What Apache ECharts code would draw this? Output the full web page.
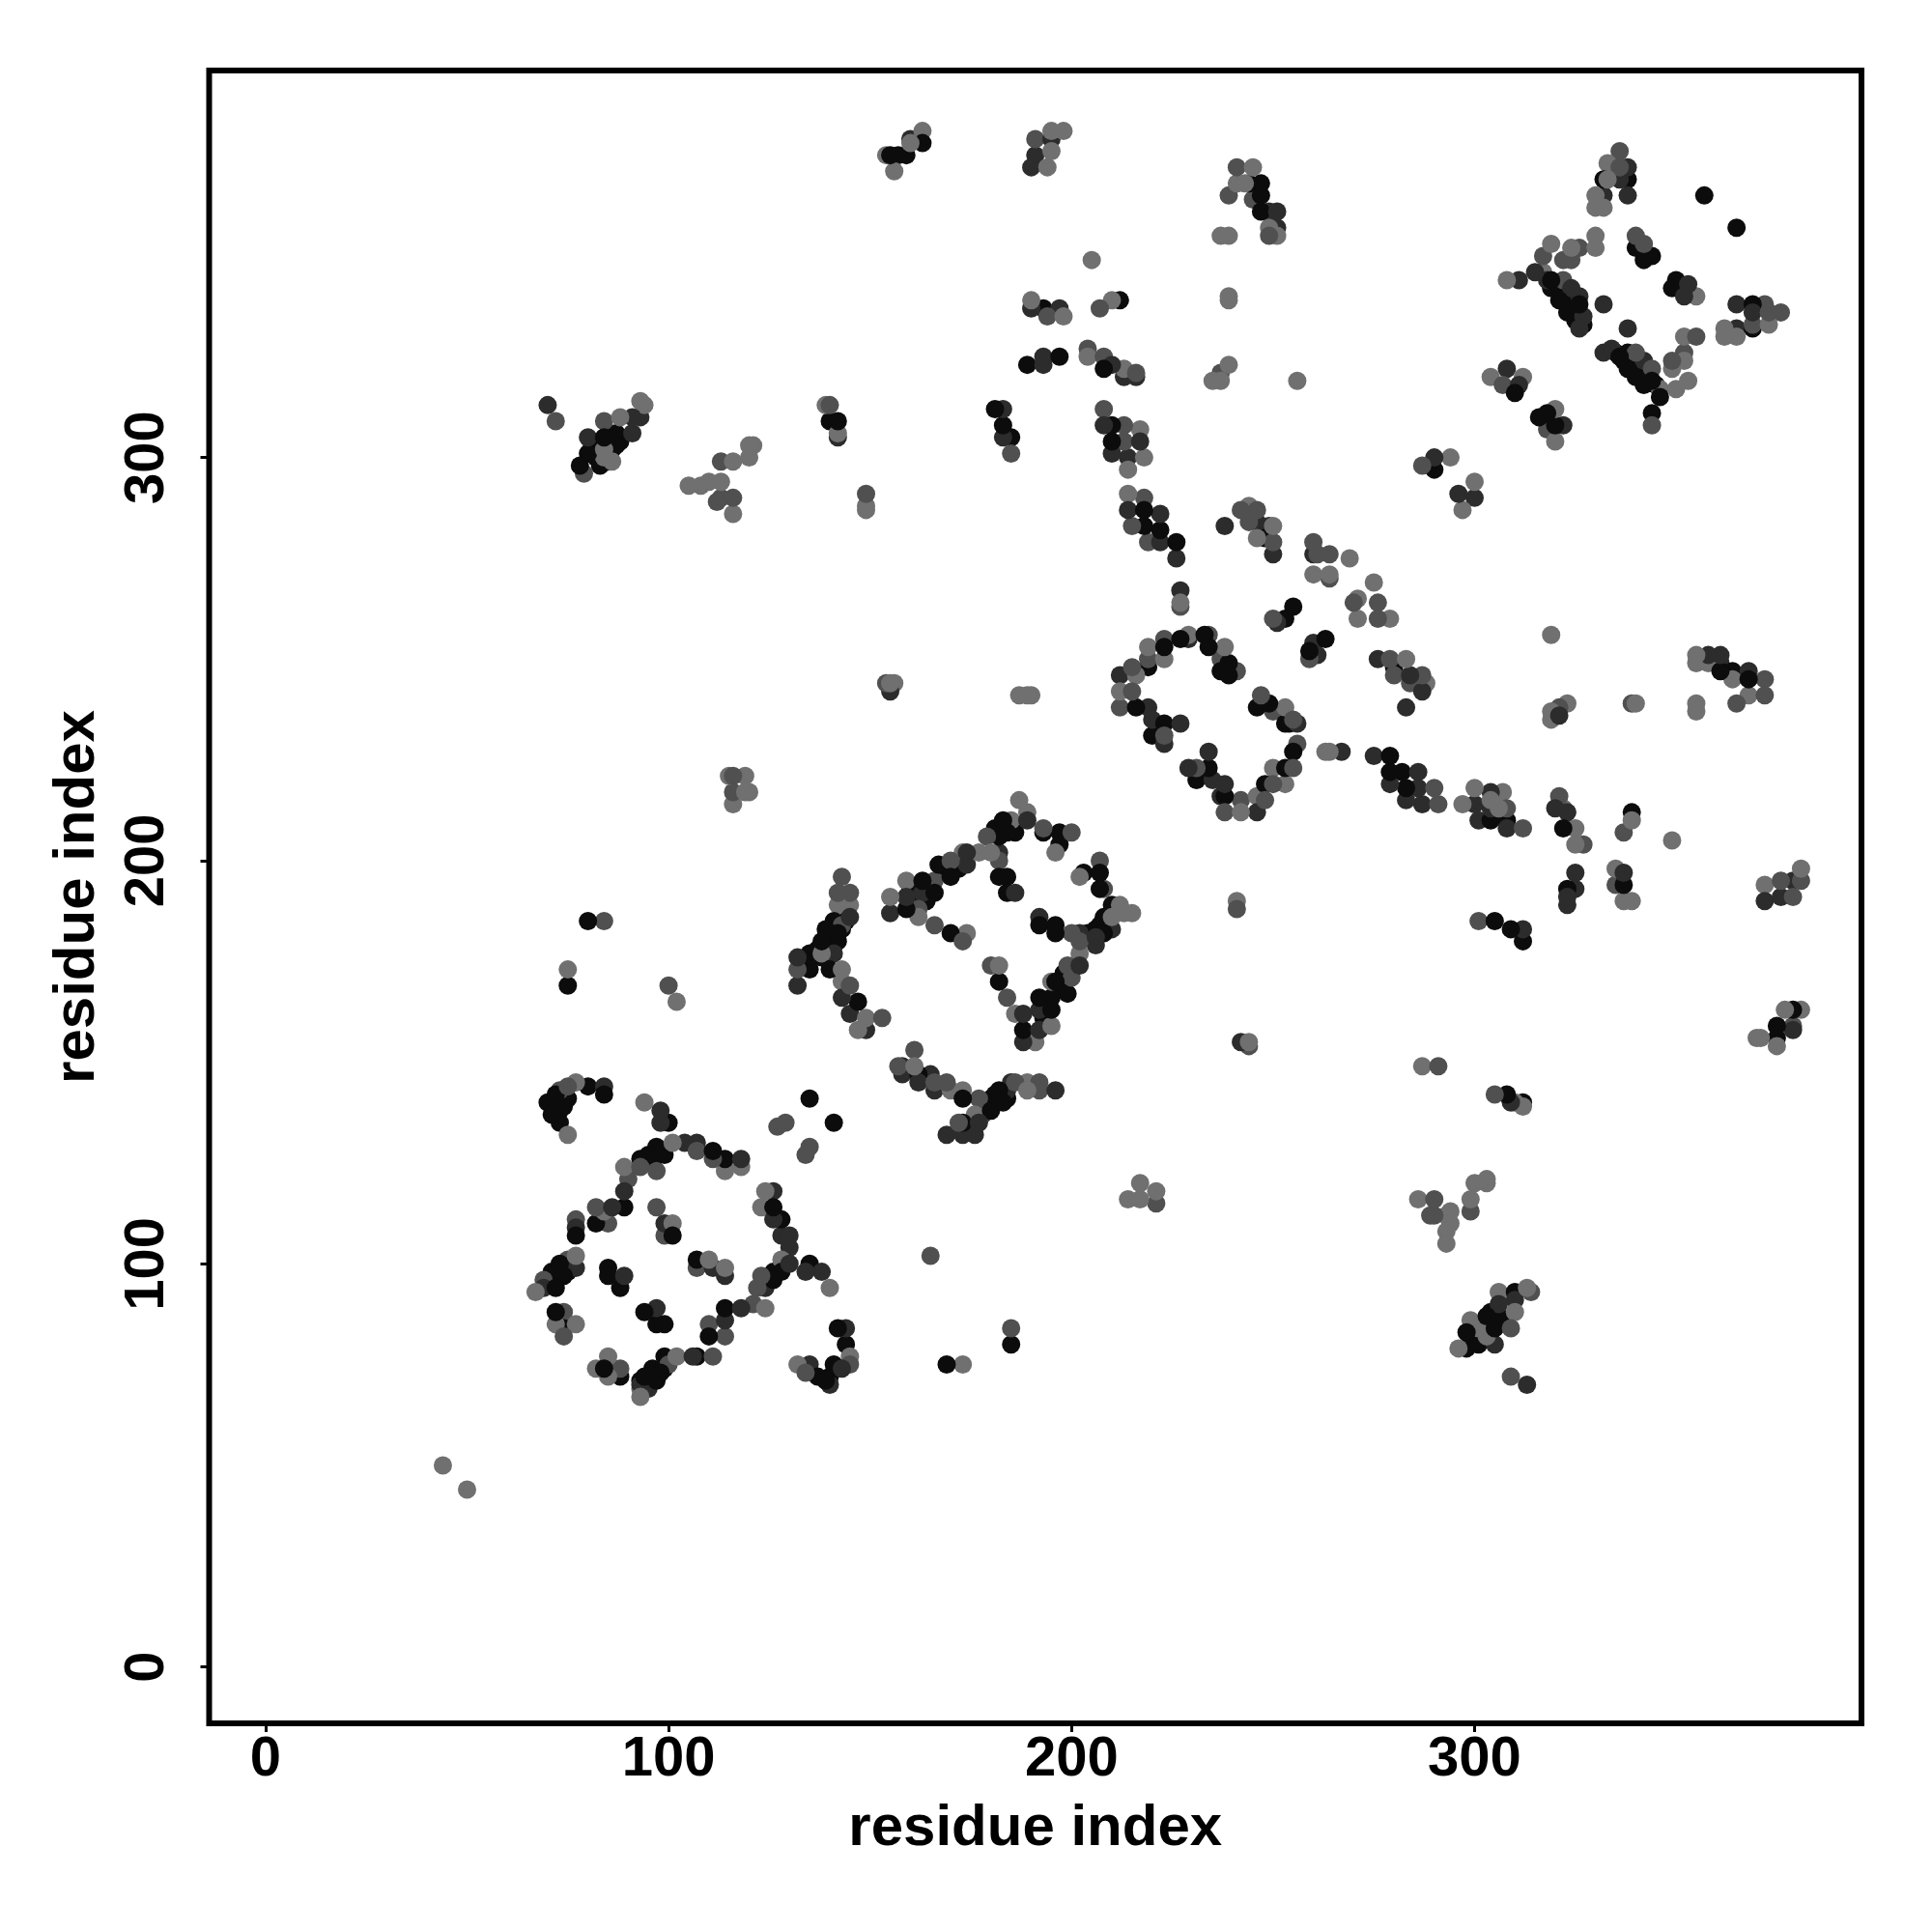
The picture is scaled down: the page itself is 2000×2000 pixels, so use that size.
<!DOCTYPE html>
<html><head><meta charset="utf-8">
<style>html,body{margin:0;padding:0;background:#fff}#c{width:2000px;height:2000px}</style>
<script src="https://cdn.jsdelivr.net/npm/echarts@6/dist/echarts.min.js"></script>
</head><body><div id="c"></div>
<script>
const tickValues=[0,100,200,300];
const axisTitle="residue index";
const shadeColors=['#0c0c0c','#2c2c2c','#505050','#707070'];
const blackContacts=[[80,144],[84,142],[72,142],[75,141],[70,140],[72,139],[71,137],[73,135],[100,135],[97,129],[95,127],[99,127],[111,128],[114,126],[89,114],[82,110],[77,107],[73,100],[71,98],[74,97],[72,94],[72,88],[74,84],[85,99],[85,97],[88,94],[94,88],[97,85],[99,85],[101,107],[107,101],[114,89],[110,82],[84,74],[88,72],[99,77],[98,73],[96,74],[94,72],[97,71],[107,77],[126,114],[128,111],[135,100],[126,98],[124,96],[126,96],[128,98],[135,141],[141,135],[142,84],[144,80],[137,72],[141,75],[140,72],[139,71],
[141,185],[139,183],[142,182],[138,180],[141,179],[135,177],[135,173],[140,173],[147,165],[159,188],[163,195],[166,192],[167,199],[170,196],[181,208],[183,210],[184,207],[182,206],[193,207],[197,207],[197,204],[182,196],[184,196],[184,192],[170,182],[203,197],[207,197],[207,193],[210,189],[207,184],[208,182],[192,184],[196,184],[196,182],[196,170],[199,167],[192,166],[195,166],[195,163],[188,158],[182,170],[162,147],[173,141],[180,141],[182,143],[183,140],[180,138],[173,135],
[218,287],[218,283],[222,282],[226,279],[248,280],[255,263],[253,260],[263,255],[259,252],[280,248],[219,248],[223,253],[227,255],[233,256],[234,253],[239,249],[237,247],[239,246],[216,238],[223,234],[220,231],[234,223],[231,220],[238,216],[248,219],[253,223],[255,227],[246,238],[249,239],[253,234],[254,234],[279,226],[279,222],[282,222],[283,218],
[332,369],[338,369],[357,365],[365,357],[340,352],[342,349],[344,350],[319,344],[319,342],[321,339],[324,338],[326,338],[350,344],[349,342],[369,338],[369,332],[336,325],[338,326],[338,322],[340,320],[344,319],[346,315],[344,311],[342,318],[310,316],[316,310],[318,311],[320,308],
[244,368],[247,368],[247,365],[247,361],[193,337],[212,339],[189,323],[197,325],[208,322],[181,312],[183,308],[185,305],[210,308],[210,304],
[84,305],[87,306],[87,303],[80,301],[83,298],[78,298],[140,309],[142,309],[155,375],[159,375],[157,375],[163,378],
[361,247],[364,247],[368,245],[323,193],[337,194],[339,212],[322,208],[304,210],[308,210],[305,185],[309,183],[312,180],[379,163],[375,159],[375,156],
[303,87],[306,87],[305,84],[298,83],[301,80],[298,79],[310,93],[80,185],[75,169],[185,80],[169,75],[308,142],[312,140],[290,297]];
const hiddenContacts=[[74,139],[71,140],[73,138],[96,125],[97,127],[98,128],[94,125],[93,126],[71,96],[70,95],[72,97],[74,99],[75,98],[93,71],[94,70],[95,71],[96,72],[97,73],[99,74],[100,76],
[138,176],[137,178],[140,181],[139,179],[142,180],[143,183],[144,185],[160,193],[161,190],[164,190],[165,194],[168,197],[172,198],[185,208],[186,207],[204,182],[206,183],[209,185],[208,186],[198,172],[197,168],[194,164],[193,161],[180,140],[181,142],[184,141],[178,139],
[320,342],[322,340],[323,339],[325,336],[325,334],[327,333],[323,336],[335,326],[337,324],[339,323],[341,322],[342,320],[343,321],[345,318],[84,303],[85,305],[82,300],[86,302],[88,304],[81,303],[85,299],[82,302],[301,83],[303,85],[304,83],[307,86],[304,88],[300,82]];
const darkContacts=[[84,144],[98,138],[98,135],[104,130],[107,130],[118,126],[89,118],[86,114],[77,109],[77,99],[69,94],[89,97],[97,89],[99,110],[111,99],[114,97],[118,89],[114,86],[93,70],[95,69],[106,77],[126,118],[126,111],[128,107],[130,107],[130,104],[130,100],[134,98],[138,98],[124,94],[135,75],[144,84],[140,70],[143,74],
[145,186],[132,176],[132,169],[141,177],[143,166],[145,162],[149,158],[155,187],[159,191],[163,192],[174,202],[174,199],[182,202],[189,210],[186,192],[210,183],[206,179],[206,181],[192,186],[202,182],[202,174],[192,163],[188,162],[192,158],[188,155],[158,149],[158,147],[165,147],[162,145],[166,143],[185,145],[184,143],[196,143],[177,135],[169,132],[173,132],[176,132],
[214,287],[222,286],[222,279],[226,275],[227,267],[238,283],[246,284],[249,283],[250,276],[260,276],[260,254],[261,251],[251,259],[276,250],[284,246],[287,242],[283,238],[212,246],[229,255],[219,238],[220,235],[227,234],[223,229],[234,227],[229,223],[235,220],[238,219],[237,216],[246,212],[256,234],[267,227],[275,226],[279,219],[286,222],[283,215],[286,218],[287,214],
[338,372],[336,369],[332,365],[338,365],[311,344],[315,346],[318,344],[324,342],[326,340],[327,335],[326,332],[332,338],[338,332],[353,343],[352,340],[365,338],[369,336],[365,332],[332,326],[334,327],[342,324],[308,322],[311,318],[322,308],[296,291],[300,290],
[191,375],[195,379],[190,372],[249,361],[251,361],[251,357],[190,337],[197,337],[193,325],[193,323],[210,323],[213,320],[216,320],[183,312],[183,305],[208,308],[217,304],[210,301],[214,300],
[70,313],[91,310],[93,310],[80,305],[91,306],[142,305],[160,379],
[358,251],[361,251],[361,249],[368,247],[372,190],[376,191],[379,195],[325,197],[325,193],[323,189],[323,191],[337,197],[321,236],[320,213],[323,212],[300,214],[304,217],[301,210],[308,208],[304,213],[312,183],[379,158],
[306,90],[310,91],[305,80],[313,70],[242,155],[155,242],[290,300],[309,140]];
const midContacts=[[73,143],[75,144],[82,114],[85,110],[75,101],[77,111],[69,96],[74,88],[74,82],[97,114],[99,107],[100,75],[88,74],[90,121],[107,128],[111,126],[93,124],[97,123],[107,99],[110,85],[114,82],[121,90],[111,77],[123,97],[122,94],[127,134],[129,135],[135,129],[134,127],[145,75],[134,73],
[143,196],[142,192],[145,192],[143,184],[132,173],[145,169],[153,161],[162,188],[166,195],[170,200],[182,200],[179,206],[193,208],[200,207],[166,184],[173,180],[207,200],[208,193],[202,180],[199,174],[200,171],[200,182],[180,174],[184,166],[161,153],[157,149],[166,145],[169,145],[177,141],[186,145],[192,145],[192,143],[172,135],[178,137],
[218,290],[215,283],[219,279],[227,263],[242,287],[246,287],[244,284],[250,279],[260,279],[261,276],[264,276],[264,270],[270,264],[276,264],[276,260],[250,260],[259,250],[279,250],[280,246],[284,244],[287,246],[215,248],[219,250],[223,255],[234,256],[237,250],[241,247],[215,242],[212,238],[223,231],[231,223],[242,215],[238,212],[248,215],[250,219],[255,223],[256,229],[247,241],[250,237],[255,235],[290,218],[291,214],
[336,376],[336,372],[322,344],[340,355],[342,353],[326,352],[317,350],[324,349],[322,349],[369,333],[372,338],[373,336],[376,336],[340,326],[344,322],[344,308],[355,330],[352,326],[349,324],[307,318],[318,307],
[191,379],[241,372],[239,365],[245,364],[249,355],[194,335],[207,337],[204,327],[208,325],[213,308],[213,304],[216,321],[208,312],[237,321],[185,301],
[72,309],[84,309],[79,296],[140,313],[112,289],[113,290],[113,299],[116,290],[149,291],
[339,239],[321,238],[372,245],[372,241],[365,239],[376,195],[381,195],[379,191],[335,194],[337,207],[321,216],[327,204],[308,213],[312,208],[301,185],[291,149],[379,159],
[290,116],[289,112],[290,112],[299,113],[314,93],[309,84],[309,72],[154,244],[116,221],[116,217],[84,185],[100,169],[165,102],[185,84],[221,115],[241,188],[244,154],[305,142],[287,298]];
const greyContacts=[[77,145],[75,132],[94,140],[101,130],[114,123],[118,124],[89,124],[84,113],[77,102],[67,93],[72,85],[77,85],[101,110],[110,101],[114,99],[124,89],[85,77],[82,74],[85,72],[102,77],[93,67],[93,69],[124,118],[123,114],[128,101],[140,94],[145,77],[132,75],
[145,189],[142,189],[138,177],[143,173],[143,170],[149,161],[147,158],[155,191],[159,195],[162,186],[173,202],[177,202],[180,202],[185,210],[187,215],[189,212],[196,202],[174,182],[202,196],[212,189],[215,187],[213,187],[210,186],[202,177],[195,170],[186,162],[195,159],[191,155],[182,174],[161,149],[170,143],[173,143],[189,145],[189,143],[176,137],
[214,291],[227,264],[244,288],[250,283],[246,280],[260,271],[264,271],[269,275],[275,269],[271,265],[271,260],[279,260],[283,250],[288,244],[216,246],[219,253],[223,250],[229,256],[238,253],[212,242],[242,212],[246,216],[253,219],[250,223],[253,238],[263,227],[264,227],
[333,373],[333,369],[330,365],[330,362],[332,362],[330,355],[330,352],[324,352],[319,353],[308,344],[317,346],[355,340],[362,332],[362,330],[365,330],[373,333],[352,330],[352,324],[349,322],[353,319],[350,317],[346,317],[304,320],[312,320],[320,312],[320,304],[300,294],[297,287],[294,300],
[195,381],[198,381],[195,376],[194,372],[245,372],[241,368],[243,368],[237,355],[239,355],[251,355],[249,357],[205,349],[190,339],[198,335],[210,339],[239,340],[239,339],[204,325],[213,322],[239,323],[235,319],[237,319],[256,319],[217,307],[218,300],[214,297],
[93,314],[94,313],[88,310],[84,302],[86,299],[84,300],[105,293],[108,293],[110,294],[113,294],[116,299],[120,300],[120,303],[121,303],[116,286],[139,313],[142,306],[149,288],[149,287],[163,381],[160,378],[154,375],[156,371],
[319,256],[323,239],[319,237],[319,235],[340,239],[355,239],[355,237],[355,251],[355,249],[358,249],[364,245],[368,241],[381,198],[372,194],[335,198],[337,190],[339,190],[339,210],[349,205],[322,213],[325,208],[325,204],[300,218],[297,214],[307,217],[304,215],[306,213],
[287,149],[381,163],[377,163],[371,156],[375,154],[370,156],[303,121],[300,120],[303,120],[299,116],[286,116],[294,113],[293,112],[294,110],[293,108],[293,105],[306,93],[313,94],[310,88],[299,86],[301,84],[303,82],[296,79],
[155,244],[156,244],[115,221],[119,221],[119,217],[120,217],[116,214],[75,173],[102,165],[187,241],[189,241],[190,241],[241,190],[244,155],[214,116],[217,120],[221,118],[217,116],[173,75],[312,139],[44,50],[50,44],[310,140]];

// Hidden contacts go underneath; the visible ones are interleaved in a fixed order, like the mixed overlaps of the source.
const withShade=(list,s)=>list.map(p=>[p[0],p[1],s]);
const visible=[...withShade(blackContacts,0),...withShade(darkContacts,1),...withShade(midContacts,2),...withShade(greyContacts,3)];
const drawKey=p=>(p[0]*7+p[1]*13+p[2]*5)%11;
visible.sort((a,b)=>drawKey(a)-drawKey(b));
const cells=[...withShade(hiddenContacts,0),...visible];

const chart=echarts.init(document.getElementById('c'),null,{renderer:'canvas'});
const font={fontFamily:'"Liberation Sans"',fontWeight:'bold',color:'#000',fontSize:58};
function axis(nameGap,rot,margin){
  return {type:'value',min:-14,max:396,name:axisTitle,nameLocation:'middle',nameGap:nameGap,
    nameRotate:rot,nameTextStyle:Object.assign({},font,{fontSize:60}),
    splitLine:{show:false},axisLine:{show:false,onZero:false},
    axisTick:{show:true,length:9,lineStyle:{color:'#000',width:3},customValues:tickValues},
    axisLabel:Object.assign({},font,{margin:margin,rotate:rot,customValues:tickValues,showMinLabel:true,showMaxLabel:true})};
}
chart.setOption({animation:false,backgroundColor:'#fff',
  grid:{show:true,left:216.5,right:73,top:73,bottom:216,borderColor:'#000',borderWidth:6,backgroundColor:'#fff'},
  xAxis:axis(79,0,9),
  yAxis:axis(106,90,35),
  series:[{type:'scatter',data:cells,symbol:'circle',symbolSize:19,silent:true,animation:false,progressive:0,large:false,
    encode:{x:0,y:1},itemStyle:{opacity:1,color:p=>shadeColors[p.data[2]]}}]
});
</script></body></html>
